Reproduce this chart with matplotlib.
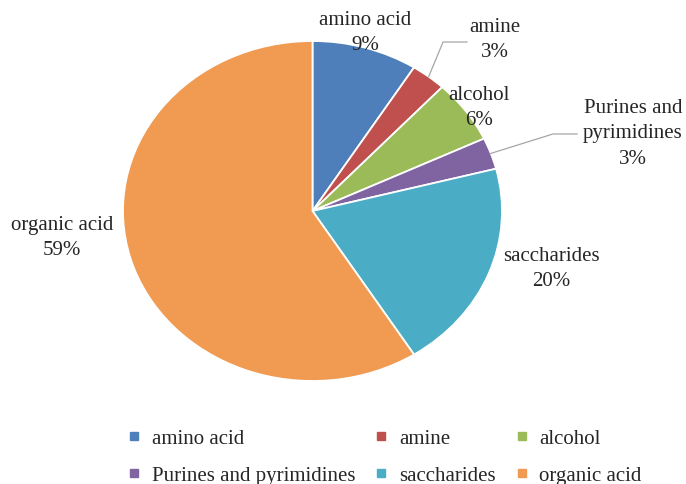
import matplotlib
matplotlib.use("Agg")
import matplotlib.pyplot as plt
import numpy as np
from matplotlib.lines import Line2D

plt.rcParams["font.family"] = ["Liberation Serif", "DejaVu Serif"]

categories = ["amino acid", "amine", "alcohol", "Purines and pyrimidines",
              "saccharides", "organic acid"]
shares = [9, 3, 6, 3, 20, 59]
slice_labels = ["amino acid", "amine", "alcohol", "Purines and\npyrimidines",
                "saccharides", "organic acid"]
colors = ["#4f7fbb", "#c0504d", "#9bbb59", "#8064a2", "#4bacc6", "#f09a52"]

TEXT = "#262626"
FS = 15

fig = plt.figure(figsize=(6.86, 4.85), dpi=100)
# pie is stretched to an ellipse, so use an auto-aspect axes box
ax = fig.add_axes([123 / 686, 1 - 382 / 485, 379 / 686, 340 / 485])

wedges, _ = ax.pie(shares, colors=colors, startangle=90, counterclock=False,
                   radius=1, frame=True,
                   wedgeprops=dict(edgecolor="white", linewidth=1.3))
ax.set_xlim(-1, 1)
ax.set_ylim(-1, 1)
ax.set_aspect("auto")
ax.axis("off")

# label centres (axes data units) for each slice
label_pos = [(0.277, 1.053), (0.963, 1.012), (0.879, 0.612),
             (1.691, 0.459), (1.259, -0.335), (-1.322, -0.153)]
for lab, val, (x, y) in zip(slice_labels, shares, label_pos):
    ax.text(x, y, f"{lab}\n{val}%", ha="center", va="center", fontsize=FS,
            color=TEXT, linespacing=1.45, clip_on=False)

# leader lines for the two thin slices placed away from the pie
leaders = {1: [(0.689, 0.994), (0.815, 0.994)],
           3: [(1.269, 0.453), (1.396, 0.453)]}
for i, pts in leaders.items():
    w = wedges[i]
    mid = np.deg2rad((w.theta1 + w.theta2) / 2)
    xs = [np.cos(mid)] + [p[0] for p in pts]
    ys = [np.sin(mid)] + [p[1] for p in pts]
    ax.plot(xs, ys, color="#a6a6a6", lw=0.9, clip_on=False)

# legend laid out row by row: reorder for matplotlib's column-major fill
order = [0, 3, 1, 4, 2, 5]
handles = [Line2D([], [], ls="", marker="s", markersize=6,
                  markerfacecolor=colors[i], markeredgecolor=colors[i])
           for i in order]
fig.legend(handles, [categories[i] for i in order], ncol=3, loc="center",
           bbox_to_anchor=(0.56, 0.056), frameon=False, fontsize=FS,
           handlelength=0.7, handletextpad=0.5, columnspacing=0.9,
           labelspacing=0.85, labelcolor=TEXT)

fig.savefig("out.png", dpi=100)
